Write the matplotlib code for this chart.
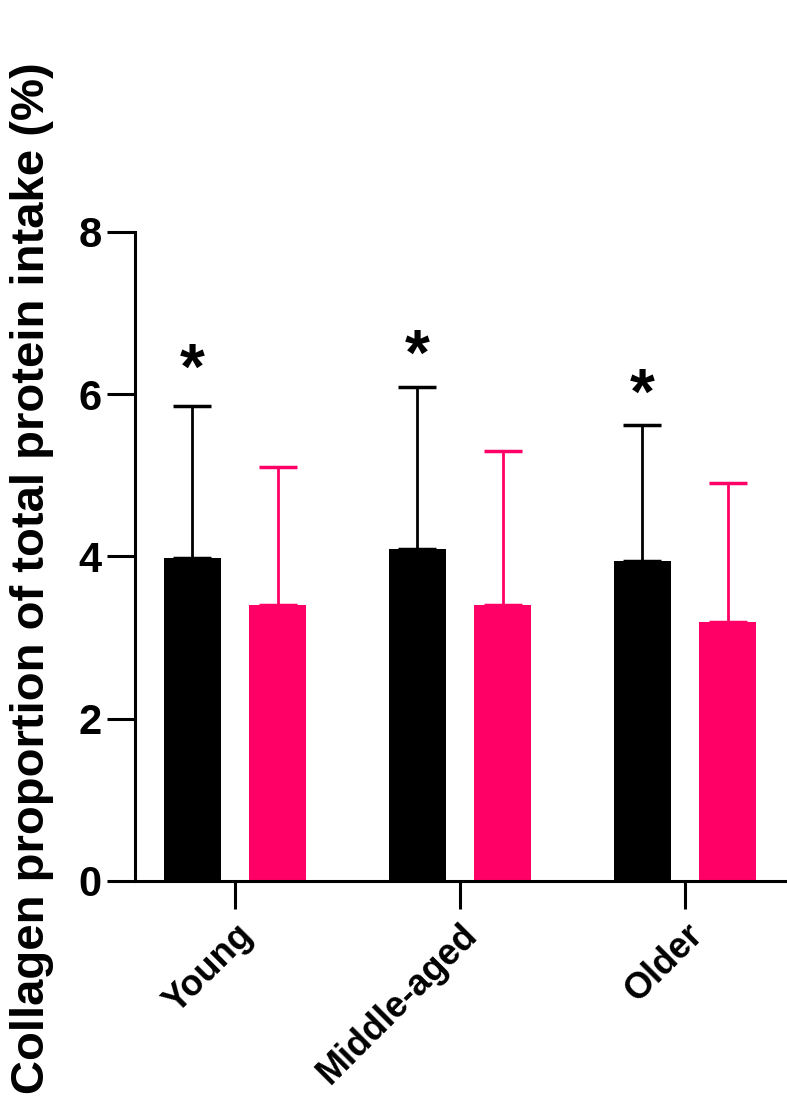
import numpy as np
import matplotlib.pyplot as plt

plt.rcParams["font.family"] = ["Liberation Sans", "DejaVu Sans"]
plt.rcParams["font.weight"] = "bold"

groups = ["Young", "Middle-aged", "Older"]
black_mean = [3.98, 4.09, 3.94]
black_sd = [1.87, 2.00, 1.68]
pink_mean = [3.40, 3.40, 3.19]
pink_sd = [1.70, 1.90, 1.71]
star_y = [6.28, 6.45, 5.97]

PINK = "#ff0066"

fig = plt.figure(figsize=(7.87, 10.99), dpi=100)
ax = fig.add_axes([0.1715, 0.1984, 0.826, 0.5906])

x = np.arange(len(groups))
off, w = 0.19, 0.253
ax.bar(x - off, black_mean, w, color="black", zorder=2)
ax.bar(x + off, pink_mean, w, color=PINK, zorder=2)
ax.errorbar(x - off, black_mean, yerr=[np.zeros(3), black_sd], fmt="none",
            ecolor="black", elinewidth=2, capsize=14, capthick=2.5, zorder=1)
ax.errorbar(x + off, pink_mean, yerr=[np.zeros(3), pink_sd], fmt="none",
            ecolor=PINK, elinewidth=2, capsize=14, capthick=2.5, zorder=1)

for xi, sy in zip(x - off, star_y):
    ax.text(xi, sy, "*", ha="center", va="center", fontsize=46, fontweight="bold")

ax.set_xlim(-0.444, 2.444)
ax.set_ylim(0, 8)
ax.set_yticks([0, 2, 4, 6, 8])
ax.set_xticks(x)
ax.set_xticklabels(groups, rotation=45, ha="right", rotation_mode="anchor",
                   fontsize=26, fontweight="bold")
ax.tick_params(axis="y", labelsize=30, width=2.2, length=20, pad=4)
ax.tick_params(axis="x", width=2.2, length=20, pad=6)
for lbl in ax.get_yticklabels():
    lbl.set_fontweight("bold")

for s in ["top", "right"]:
    ax.spines[s].set_visible(False)
for s in ["left", "bottom"]:
    ax.spines[s].set_linewidth(2.2)

ax.set_ylabel("Collagen proportion of total protein intake (%)",
              fontsize=34, fontweight="bold")
ax.yaxis.set_label_coords(-0.125, 0.467)

fig.savefig("out.png", dpi=100)
